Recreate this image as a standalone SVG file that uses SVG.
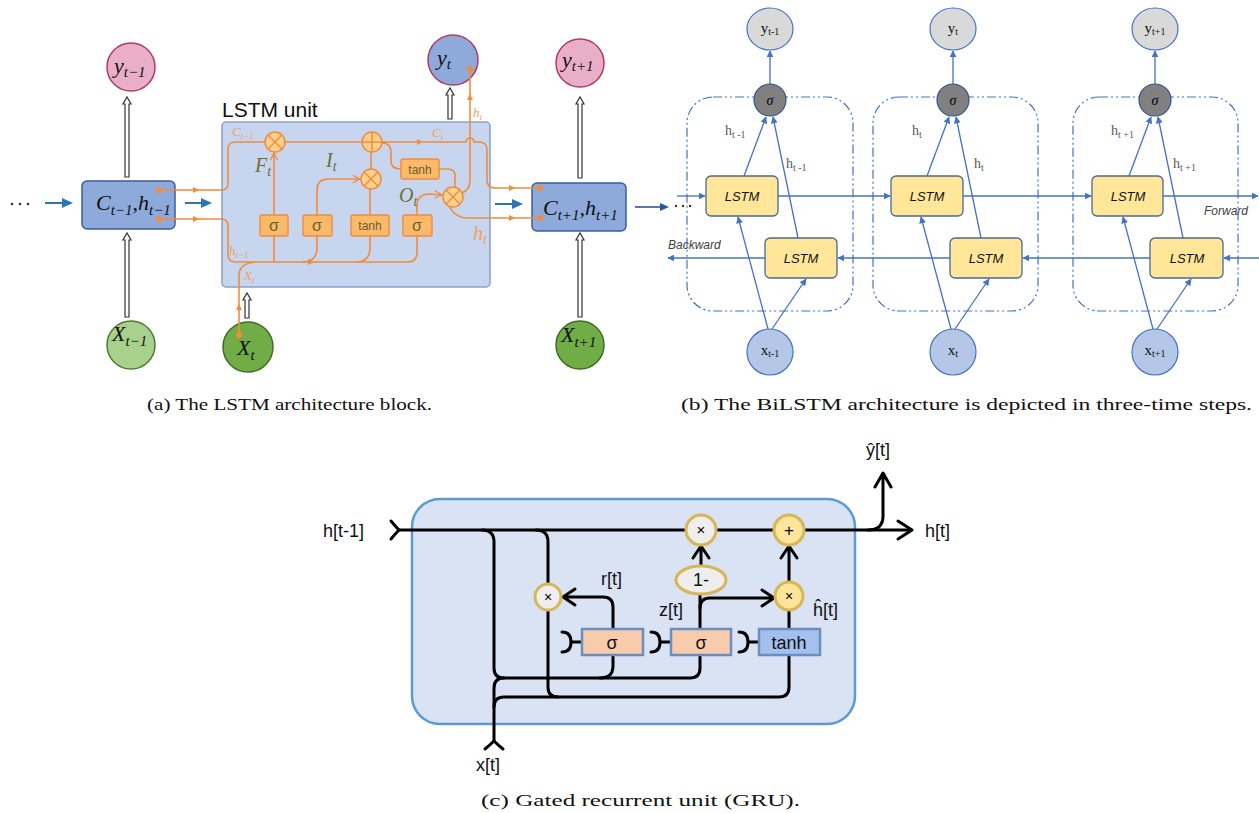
<svg xmlns="http://www.w3.org/2000/svg" width="1259" height="813" viewBox="0 0 1259 813">
<style>
.math{font-family:"Liberation Serif","DejaVu Serif",serif;font-style:italic}
.ow{fill:none;stroke:#f08c3c;stroke-width:1.6}
.og{fill:#fbba6a;stroke:#f08c3c;stroke-width:1.4}
.gt{font-family:"Liberation Sans",Arial,sans-serif;fill:#6b5d2c;text-anchor:middle}
.ol{fill:#f0a060}
.gl{fill:#6e6e38}
.dbl{fill:#fff;stroke:#333;stroke-width:1.2}
.bl{fill:none;stroke:#4472c4;stroke-width:1.3}
.lstm{fill:#ffe699;stroke:#4a6898;stroke-width:1.3}
.lt{font-family:"Liberation Sans",Arial,sans-serif;font-style:italic;font-size:13px;text-anchor:middle;fill:#111}
.hl{font-family:"Liberation Serif",serif;font-size:14px;fill:#595959}
.yl{font-family:"Liberation Serif",serif;font-size:15px;fill:#111;text-anchor:middle}
.gw{fill:none;stroke:#000;stroke-width:3;stroke-linecap:round;stroke-linejoin:round}
.ga{font-family:"Liberation Sans",Arial,sans-serif;font-size:18px;fill:#111}
.cap{font-family:"Liberation Serif","DejaVu Serif",serif;font-size:16px;fill:#111}
</style>
<defs>
<marker id="bt" viewBox="0 0 10 10" refX="9" refY="5" markerWidth="7" markerHeight="7" orient="auto" markerUnits="userSpaceOnUse"><path d="M0,0 L10,5 L0,10 z" fill="#4472c4"/></marker>
<marker id="oc" viewBox="0 0 10 10" refX="9" refY="5" markerWidth="9" markerHeight="9" orient="auto" markerUnits="userSpaceOnUse"><path d="M1,1 L9,5 L1,9" fill="none" stroke="#f08c3c" stroke-width="1.4"/></marker>
</defs>

<!-- ============ Panel (a) ============ -->
<g id="a-dots"><circle cx="12" cy="204" r="1.3" fill="#333"/><circle cx="20" cy="204" r="1.3" fill="#333"/><circle cx="28" cy="204" r="1.3" fill="#333"/></g>

<g id="a-box-prev">
<rect x="82" y="181" width="93" height="48" rx="5" fill="#8eaadb" stroke="#3d5c98" stroke-width="1.5"/>
<text x="96" y="210" class="math" font-size="22" fill="#111">C<tspan font-size="15" dy="5">t−1</tspan><tspan dy="-5">,</tspan>h<tspan font-size="15" dy="5">t−1</tspan></text>
</g>
<g id="a-y-prev"><circle cx="131" cy="67" r="24" fill="#e9afc9" stroke="#b13a66" stroke-width="1.5"/><text x="114" y="73" class="math" font-size="22" fill="#111">y<tspan font-size="15" dy="4">t−1</tspan></text></g>
<g id="a-x-prev"><circle cx="131" cy="345" r="24" fill="#a9d18e" stroke="#4f7b33" stroke-width="1.5"/><text x="112" y="341" class="math" font-size="22" fill="#111">X<tspan font-size="15" dy="5">t−1</tspan></text></g>

<g id="a-lstm-unit">
<text x="222" y="117" font-family="Liberation Sans,Arial,sans-serif" font-size="21" fill="#111">LSTM unit</text>
<rect x="222" y="122" width="268" height="165" rx="4" fill="#c8d5ee" stroke="#8ba1c9" stroke-width="1.5"/>
</g>

<g id="a-box-next">
<rect x="532" y="183" width="94" height="48" rx="5" fill="#8eaadb" stroke="#3d5c98" stroke-width="1.5"/>
<text x="543" y="215" class="math" font-size="22" fill="#111">C<tspan font-size="15" dy="5">t+1</tspan><tspan dy="-5">,</tspan>h<tspan font-size="15" dy="5">t+1</tspan></text>
</g>
<g id="a-y-t"><circle cx="453" cy="60" r="25" fill="#8eaadb" stroke="#b13a66" stroke-width="1.5"/><text x="437" y="65" class="math" font-size="22" fill="#111">y<tspan font-size="15" dy="4">t</tspan></text></g>
<g id="a-y-next"><circle cx="580" cy="63" r="24" fill="#e9afc9" stroke="#b13a66" stroke-width="1.5"/><text x="562" y="67" class="math" font-size="22" fill="#111">y<tspan font-size="15" dy="4">t+1</tspan></text></g>
<g id="a-x-t"><circle cx="248" cy="347" r="25" fill="#70ad47" stroke="#3f6b28" stroke-width="1.5"/><text x="237" y="355" class="math" font-size="22" fill="#111">X<tspan font-size="15" dy="5">t</tspan></text></g>
<g id="a-x-next"><circle cx="580" cy="345" r="24" fill="#70ad47" stroke="#3f6b28" stroke-width="1.5"/><text x="561" y="342" class="math" font-size="22" fill="#111">X<tspan font-size="15" dy="5">t+1</tspan></text></g>

<!-- gates inside unit -->
<g id="a-gates">
<rect x="260" y="215" width="28" height="21" rx="2" class="og"/><text x="274" y="231" class="gt" font-size="16">σ</text>
<rect x="303" y="215" width="29" height="21" rx="2" class="og"/><text x="317" y="231" class="gt" font-size="16">σ</text>
<rect x="351" y="215" width="38" height="21" rx="2" class="og"/><text x="370" y="230" class="gt" font-size="12">tanh</text>
<rect x="403" y="215" width="29" height="21" rx="2" class="og"/><text x="417" y="231" class="gt" font-size="16">σ</text>
<rect x="401" y="159" width="38" height="20" rx="2" class="og"/><text x="420" y="174" class="gt" font-size="12">tanh</text>
</g>

<g id="a-wires">
<path class="ow" d="M159,190 L222,190 Q228,190 228,183 L228,149 Q228,142 236,142 L265,142"/>
<path class="ow" d="M159,219 L221,219 Q228,219 228,226 L228,255 Q228,262 236,262 L408,262 Q417,262 417,252 L417,236"/>
<path class="ow" d="M239,335 L239,276 Q239,263 256,262"/>
<path class="ow" d="M274,262 L274,236"/>
<path class="ow" d="M274,215 L274,153" marker-end="url(#oc)"/>
<path class="ow" d="M317,236 L317,248 Q317,262 302,262"/>
<path class="ow" d="M317,215 L317,190 Q317,179 328,179 L360,179" marker-end="url(#oc)"/>
<path class="ow" d="M370,236 L370,248 Q370,262 356,262"/>
<path class="ow" d="M370,215 L370,189"/>
<path class="ow" d="M371,169 L371,152"/>
<path class="ow" d="M417,215 L417,206 Q417,194 430,194 L442,195" marker-end="url(#oc)"/>
<path class="ow" d="M285,142 L361,142"/>
<path class="ow" d="M382,142 L466,142 A4,4 0 0 1 474,142 L479,142 Q487,142 487,150 L487,180 Q487,188 495,188 L540,188"/>
<path class="ow" d="M382,143 Q391,143 391,152 L391,161 Q391,169 401,169"/>
<path class="ow" d="M439,169 L448,169 Q455,169 455,176 L455,187"/>
<path class="ow" d="M462,193 Q470,190 470,180 L470,69"/>
<path class="ow" d="M449,206 Q455,218 468,218 L540,218"/>
<circle cx="159" cy="190" r="3" fill="#f08c3c"/><circle cx="159" cy="219" r="3" fill="#f08c3c"/>
<circle cx="239" cy="335" r="3" fill="#f08c3c"/><circle cx="470" cy="69" r="3" fill="#f08c3c"/>
<circle cx="540" cy="188" r="3" fill="#f08c3c"/><circle cx="540" cy="218" r="3" fill="#f08c3c"/>
<g fill="#f08c3c">
<path d="M193,187 L199,190 L193,193z"/><path d="M193,216 L199,219 L193,222z"/>
<path d="M308,259 L314,262 L308,265z"/><path d="M417,139 L423,142 L417,145z"/>
<path d="M236,310 L239,304 L242,310z"/><path d="M467,100 L470,94 L473,100z"/>
<path d="M509,185 L515,188 L509,191z"/><path d="M509,215 L515,218 L509,221z"/>
</g>
</g>

<g id="a-ops">
<circle cx="275" cy="142" r="10" fill="#fcd08d" stroke="#f08c3c" stroke-width="1.5"/><path d="M268,135 L282,149 M282,135 L268,149" stroke="#f08c3c" stroke-width="1.4"/>
<circle cx="372" cy="142" r="10" fill="#fcd08d" stroke="#f08c3c" stroke-width="1.5"/><path d="M362,142 L382,142 M372,132 L372,152" stroke="#f08c3c" stroke-width="1.4"/>
<circle cx="371" cy="179" r="10" fill="#fcd08d" stroke="#f08c3c" stroke-width="1.5"/><path d="M364,172 L378,186 M378,172 L364,186" stroke="#f08c3c" stroke-width="1.4"/>
<circle cx="453" cy="197" r="10" fill="#fcd08d" stroke="#f08c3c" stroke-width="1.5"/><path d="M446,190 L460,204 M460,190 L446,204" stroke="#f08c3c" stroke-width="1.4"/>
</g>

<g id="a-labels">
<text x="232" y="136" class="math ol" font-size="13">C<tspan font-size="9" dy="3">t−1</tspan></text>
<text x="432" y="137" class="math ol" font-size="13">C<tspan font-size="9" dy="3">t</tspan></text>
<text x="229" y="255" class="math ol" font-size="13">h<tspan font-size="9" dy="3">t−1</tspan></text>
<text x="244" y="280" class="math ol" font-size="13">X<tspan font-size="9" dy="3">t</tspan></text>
<text x="473" y="117" class="math ol" font-size="13">h<tspan font-size="9" dy="3">t</tspan></text>
<text x="473" y="240" class="math ol" font-size="20">h<tspan font-size="14" dy="4">t</tspan></text>
<text x="255" y="172" class="math gl" font-size="20">F<tspan font-size="14" dy="4">t</tspan></text>
<text x="326" y="167" class="math gl" font-size="20">I<tspan font-size="14" dy="4">t</tspan></text>
<text x="399" y="202" class="math gl" font-size="20">O<tspan font-size="14" dy="4">t</tspan></text>
</g>

<g id="a-arrows">
<path class="dbl" d="M125,177 L125,104 L123,104 L127,97 L131,104 L129,104 L129,177z"/>
<path class="dbl" d="M125,317 L125,240 L123,240 L127,233 L131,240 L129,240 L129,317z"/>
<path class="dbl" d="M448,119 L448,95 L446,95 L450,88 L454,95 L452,95 L452,119z"/>
<path class="dbl" d="M245,318 L245,300 L243,300 L247,293 L251,300 L249,300 L249,318z"/>
<path class="dbl" d="M578,178 L578,104 L576,104 L580,97 L584,104 L582,104 L582,178z"/>
<path class="dbl" d="M578,317 L578,240 L576,240 L580,233 L584,240 L582,240 L582,317z"/>
<path d="M45,203 L64,203" stroke="#2e75b6" stroke-width="2"/><path d="M62,198 L73,203 L62,208z" fill="#2e75b6"/>
<path d="M185,203 L203,203" stroke="#2e75b6" stroke-width="2"/><path d="M201,198 L212,203 L201,208z" fill="#2e75b6"/>
<path d="M495,204 L514,204" stroke="#2e75b6" stroke-width="2"/><path d="M512,199 L523,204 L512,209z" fill="#2e75b6"/>
<path d="M635,207 L662,207" stroke="#2f5597" stroke-width="1.6"/><path d="M660,203 L669,207 L660,211z" fill="#2f5597"/>
</g>

<!-- ============ Panel (b) ============ -->
<g id="b-connectors">
<path class="bl" d="M677,196 L705,196" marker-end="url(#bt)"/>
<path class="bl" d="M778,196 L890,196" marker-end="url(#bt)"/>
<path class="bl" d="M963,196 L1091,196" marker-end="url(#bt)"/>
<path class="bl" d="M1163,196 L1258,196" marker-end="url(#bt)"/>
<path class="bl" d="M1259,258 L1224,258" marker-end="url(#bt)"/>
<path class="bl" d="M1150,258 L1023,258" marker-end="url(#bt)"/>
<path class="bl" d="M950,258 L838,258" marker-end="url(#bt)"/>
<path class="bl" d="M765,258 L668,258" marker-end="url(#bt)"/>
</g>
<g fill="#333"><circle cx="676" cy="206" r="1.2"/><circle cx="683" cy="206" r="1.2"/><circle cx="690" cy="206" r="1.2"/></g>
<text x="668" y="249" font-family="Liberation Sans,Arial,sans-serif" font-style="italic" font-size="12" fill="#404040">Backward</text>
<text x="1204" y="215" font-family="Liberation Sans,Arial,sans-serif" font-style="italic" font-size="12" fill="#404040">Forward</text>

<g id="b-step1">
<rect x="687" y="97" width="166" height="214" rx="26" fill="none" stroke="#4472c4" stroke-width="1.2" stroke-dasharray="9,3,2,3,2,3"/>
<path class="bl" d="M744,176 L766,117" marker-end="url(#bt)"/><path class="bl" d="M798,238 L773,117" marker-end="url(#bt)"/>
<path class="bl" d="M768,329 L738,217" marker-end="url(#bt)"/><path class="bl" d="M772,329 L806,279" marker-end="url(#bt)"/>
<path class="bl" d="M770,84 L770,51" marker-end="url(#bt)"/>
<rect x="706" y="176" width="72" height="40" rx="5" class="lstm"/><text x="742" y="201" class="lt">LSTM</text>
<rect x="765" y="238" width="72" height="40" rx="5" class="lstm"/><text x="801" y="263" class="lt">LSTM</text>
<circle cx="770" cy="100" r="16" fill="#808080" stroke="#33538a" stroke-width="1.2"/><text x="770" y="105" class="math" font-size="14" text-anchor="middle">σ</text>
<ellipse cx="770" cy="29" rx="23" ry="21" fill="#d9d9d9" stroke="#4472c4" stroke-width="1.2"/><text x="770" y="33" class="yl">y<tspan font-size="10" dy="2">t-1</tspan></text>
<ellipse cx="770" cy="352" rx="23" ry="23" fill="#b4c7e7" stroke="#4472c4" stroke-width="1.2"/><text x="770" y="355" class="yl">x<tspan font-size="10" dy="2">t-1</tspan></text>
<text x="725" y="135" class="hl">h<tspan font-size="10" dy="3">t -1</tspan></text>
<text x="786" y="168" class="hl">h<tspan font-size="10" dy="3">t -1</tspan></text>
</g>

<g id="b-step2">
<rect x="873" y="97" width="165" height="214" rx="26" fill="none" stroke="#4472c4" stroke-width="1.2" stroke-dasharray="9,3,2,3,2,3"/>
<path class="bl" d="M927,176 L949,117" marker-end="url(#bt)"/><path class="bl" d="M981,238 L956,117" marker-end="url(#bt)"/>
<path class="bl" d="M951,329 L921,217" marker-end="url(#bt)"/><path class="bl" d="M955,329 L989,279" marker-end="url(#bt)"/>
<path class="bl" d="M953,84 L953,51" marker-end="url(#bt)"/>
<rect x="891" y="176" width="72" height="40" rx="5" class="lstm"/><text x="927" y="201" class="lt">LSTM</text>
<rect x="950" y="238" width="72" height="40" rx="5" class="lstm"/><text x="986" y="263" class="lt">LSTM</text>
<circle cx="953" cy="100" r="16" fill="#808080" stroke="#33538a" stroke-width="1.2"/><text x="953" y="105" class="math" font-size="14" text-anchor="middle">σ</text>
<ellipse cx="953" cy="29" rx="23" ry="21" fill="#d9d9d9" stroke="#4472c4" stroke-width="1.2"/><text x="953" y="33" class="yl">y<tspan font-size="10" dy="2">t</tspan></text>
<ellipse cx="953" cy="352" rx="23" ry="23" fill="#b4c7e7" stroke="#4472c4" stroke-width="1.2"/><text x="953" y="355" class="yl">x<tspan font-size="10" dy="2">t</tspan></text>
<text x="912" y="135" class="hl">h<tspan font-size="10" dy="3">t</tspan></text>
<text x="974" y="168" class="hl">h<tspan font-size="10" dy="3">t</tspan></text>
</g>

<g id="b-step3">
<rect x="1073" y="97" width="165" height="214" rx="26" fill="none" stroke="#4472c4" stroke-width="1.2" stroke-dasharray="9,3,2,3,2,3"/>
<path class="bl" d="M1129,176 L1151,117" marker-end="url(#bt)"/><path class="bl" d="M1183,238 L1158,117" marker-end="url(#bt)"/>
<path class="bl" d="M1153,329 L1123,217" marker-end="url(#bt)"/><path class="bl" d="M1157,329 L1191,279" marker-end="url(#bt)"/>
<path class="bl" d="M1155,84 L1155,51" marker-end="url(#bt)"/>
<rect x="1092" y="176" width="71" height="40" rx="5" class="lstm"/><text x="1128" y="201" class="lt">LSTM</text>
<rect x="1150" y="238" width="73" height="40" rx="5" class="lstm"/><text x="1187" y="263" class="lt">LSTM</text>
<circle cx="1155" cy="100" r="16" fill="#808080" stroke="#33538a" stroke-width="1.2"/><text x="1155" y="105" class="math" font-size="14" text-anchor="middle">σ</text>
<ellipse cx="1155" cy="29" rx="23" ry="21" fill="#d9d9d9" stroke="#4472c4" stroke-width="1.2"/><text x="1155" y="33" class="yl">y<tspan font-size="10" dy="2">t+1</tspan></text>
<ellipse cx="1155" cy="352" rx="23" ry="23" fill="#b4c7e7" stroke="#4472c4" stroke-width="1.2"/><text x="1155" y="355" class="yl">x<tspan font-size="10" dy="2">t+1</tspan></text>
<text x="1111" y="135" class="hl">h<tspan font-size="10" dy="3">t +1</tspan></text>
<text x="1173" y="168" class="hl">h<tspan font-size="10" dy="3">t +1</tspan></text>
</g>

<!-- captions -->
<text x="147" y="410" class="cap" textLength="285" lengthAdjust="spacingAndGlyphs">(a) The LSTM architecture block.</text>
<text x="681" y="410" class="cap" textLength="571" lengthAdjust="spacingAndGlyphs">(b) The BiLSTM architecture is depicted in three-time steps.</text>
<text x="481" y="806" class="cap" textLength="319" lengthAdjust="spacingAndGlyphs">(c) Gated recurrent unit (GRU).</text>

<!-- ============ Panel (c) GRU ============ -->
<g id="c-box"><rect x="412" y="499" width="443" height="225" rx="28" fill="#dae3f3" stroke="#5b9bd5" stroke-width="2.5"/></g>

<g id="c-connectors">
<path class="gw" d="M391,521 Q396,527 399,530 Q396,533 391,539"/>
<path class="gw" d="M399,530 L686,530 M716,530 L774,530 M804,530 L911,530"/>
<path class="gw" d="M898,521 L912,530 L898,539"/>
<path class="gw" d="M868,530 Q883,530 883,516 L883,474 M875,487 L883,473 L891,487"/>
<path class="gw" d="M482,530 Q494,530 494,542 L494,668 Q494,678 504,678 L690,678 Q700,678 700,668 L700,655"/>
<path class="gw" d="M600,678 Q613,678 613,666 L613,655"/>
<path class="gw" d="M485,749 Q490,745 494,741 Q498,745 503,749"/>
<path class="gw" d="M494,741 L494,688 Q494,678 504,678"/>
<path class="gw" d="M494,707 Q494,697 504,697 L779,697 Q789,697 789,687 L789,655"/>
<path class="gw" d="M536,530 Q548,530 548,542 L548,584"/>
<path class="gw" d="M548,610 L548,687 Q548,697 558,697"/>
<path class="gw" d="M613,629 L613,607 Q613,597 603,597 L563,597 M575,589 L563,597 L575,605"/>
<path class="gw" d="M700,629 L700,594"/>
<path class="gw" d="M700,608 Q700,598 710,598 L774,598 M762,590 L774,598 L762,606"/>
<path class="gw" d="M701,566 L701,547 M693,558 L701,546 L709,558"/>
<path class="gw" d="M789,629 L789,610"/>
<path class="gw" d="M789,582 L789,547 M781,558 L789,546 L797,558"/>
<path class="gw" d="M562,632 Q571,632 571,642 Q571,652 562,652 M571,642 L582,642"/>
<path class="gw" d="M651,632 Q660,632 660,642 Q660,652 651,652 M660,642 L671,642"/>
<path class="gw" d="M739,632 Q748,632 748,642 Q748,652 739,652 M748,642 L759,642"/>
</g>

<g id="c-sigma-r"><rect x="582" y="629" width="61" height="26" fill="#f8cbad" stroke="#6c8ebf" stroke-width="2.5"/><text x="612" y="649" class="ga" text-anchor="middle">σ</text></g>
<g id="c-sigma-z"><rect x="671" y="629" width="60" height="26" fill="#f8cbad" stroke="#6c8ebf" stroke-width="2.5"/><text x="701" y="649" class="ga" text-anchor="middle">σ</text></g>
<g id="c-tanh"><rect x="759" y="629" width="61" height="26" fill="#a4c0ef" stroke="#6c8ebf" stroke-width="2.5"/><text x="789" y="649" class="ga" text-anchor="middle">tanh</text></g>
<g id="c-mul-r"><circle cx="548" cy="597" r="13" fill="#eeeeee" stroke="#d6b656" stroke-width="3"/><text x="548" y="602" font-family="Liberation Sans,Arial,sans-serif" font-size="14" text-anchor="middle">×</text></g>
<g id="c-one-minus"><ellipse cx="701" cy="580" rx="25" ry="14" fill="#eeeeee" stroke="#d6b656" stroke-width="3"/><text x="701" y="586" class="ga" font-size="17" text-anchor="middle">1-</text></g>
<g id="c-mul-top"><circle cx="701" cy="530" r="15" fill="#eeeeee" stroke="#d6b656" stroke-width="3"/><text x="701" y="535" font-family="Liberation Sans,Arial,sans-serif" font-size="15" text-anchor="middle">×</text></g>
<g id="c-plus"><circle cx="789" cy="530" r="15" fill="#ffe599" stroke="#d6b656" stroke-width="3"/><text x="789" y="536" font-family="Liberation Sans,Arial,sans-serif" font-size="17" text-anchor="middle">+</text></g>
<g id="c-mul-h"><circle cx="789" cy="596" r="14" fill="#ffe599" stroke="#d6b656" stroke-width="3"/><text x="789" y="601" font-family="Liberation Sans,Arial,sans-serif" font-size="14" text-anchor="middle">×</text></g>

<g id="c-labels">
<text x="323" y="537" class="ga" font-size="19">h[t-1]</text>
<text x="925" y="537" class="ga" font-size="19">h[t]</text>
<text x="866" y="456" class="ga">ŷ[t]</text>
<text x="476" y="771" class="ga">x[t]</text>
<text x="601" y="585" class="ga">r[t]</text>
<text x="659" y="616" class="ga">z[t]</text>
<text x="813" y="616" class="ga">ĥ[t]</text>
</g>
</svg>
